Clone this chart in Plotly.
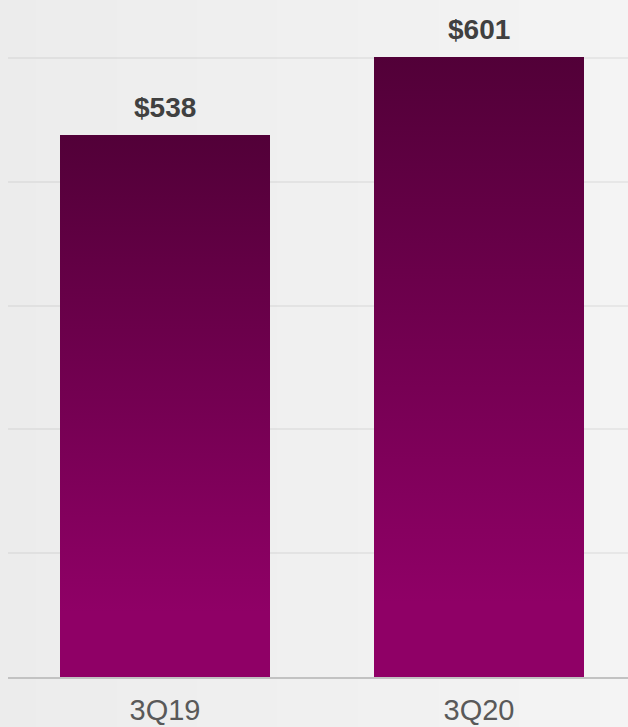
import plotly.graph_objects as go

categories = ["3Q19", "3Q20"]
values = [538, 601]
labels = ["$538", "$601"]

axis_min = 100
axis_max = 647
bar_half = 0.3344

fig = go.Figure()

# background horizontal gradient strips
n = 32
left = (236, 236, 236)
right = (244, 244, 244)
shapes = []
for i in range(n):
    t = i / (n - 1)
    c = tuple(round(left[k] + (right[k] - left[k]) * t) for k in range(3))
    shapes.append(dict(type="rect", xref="paper", yref="paper",
                       x0=-0.02 + i * 1.04 / n, x1=-0.02 + (i + 1) * 1.04 / n + 0.002,
                       y0=-0.1, y1=1.0, line=dict(width=0),
                       fillcolor="rgb(%d,%d,%d)" % c, layer="below"))

for i, (cat, v) in enumerate(zip(categories, values)):
    fig.add_trace(go.Scatter(
        x=[i - bar_half, i + bar_half, i + bar_half, i - bar_half, i - bar_half],
        y=[axis_min, axis_min, v, v, axis_min],
        mode="lines", fill="toself", line=dict(width=0),
        fillgradient=dict(type="vertical",
                          colorscale=[[0, "#8f0066"], [0.12, "#8f0066"], [1, "#520038"]]),
        hoverinfo="skip", showlegend=False, name=cat))

annotations = []
for i, (v, lab) in enumerate(zip(values, labels)):
    annotations.append(dict(x=i, y=v, xref="x", yref="y", text="<b>%s</b>" % lab,
                            showarrow=False, yanchor="bottom", yshift=10,
                            font=dict(family="Liberation Sans, Arial", size=28, color="#404040")))

fig.update_layout(
    width=628, height=727,
    margin=dict(l=8, r=0, t=0, b=50, autoexpand=False),
    paper_bgcolor="#ececec", plot_bgcolor="rgba(0,0,0,0)",
    shapes=shapes, annotations=annotations,
    xaxis=dict(range=[-0.5, -0.5 + 620 / 314], tickvals=[0, 1], ticktext=categories,
               showgrid=False, zeroline=False, showline=True, linecolor="#c2c2c2", linewidth=2,
               ticks="outside", ticklen=6, tickcolor="rgba(0,0,0,0)", automargin=False,
               tickfont=dict(family="Liberation Sans, Arial", size=29, color="#595959"),
               fixedrange=True),
    yaxis=dict(range=[axis_min, axis_max], tick0=0, dtick=100, showgrid=True,
               gridcolor="rgba(0,0,0,0.05)", gridwidth=1.5, zeroline=False,
               showticklabels=False, automargin=False, fixedrange=True),
)

fig.write_html("out.html")
